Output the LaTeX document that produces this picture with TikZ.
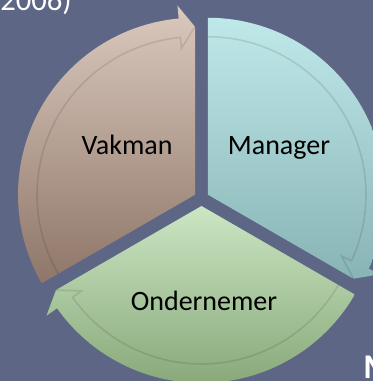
\documentclass[tikz,border=0pt]{standalone}
\usepackage{fontspec}
\setmainfont{Carlito}
\usepackage{xcolor}
\definecolor{slate}{HTML}{5E6685}
\definecolor{vakTop}{HTML}{DBC9BE}
\definecolor{vakBot}{HTML}{8E7668}
\definecolor{manTop}{HTML}{BFE8E9}
\definecolor{manBot}{HTML}{88B4B5}
\definecolor{ondTop}{HTML}{CBE6C3}
\definecolor{ondBot}{HTML}{89A97B}
\tikzset{
	x=0.75pt, y=0.75pt,
	label/.style={text=black, anchor=base, font=\fontsize{21}{25}\selectfont},
	title/.style={text=white, anchor=base west, inner sep=0pt},
	bandline/.style={draw=black, opacity=0.1, line width=1.2pt}}

\begin{document}
\begin{tikzpicture}
		\clip (-201.5,-182.5) rectangle (171.5,198.5);
		\fill[slate] (-201.5,-182.5) rectangle (171.5,198.5);
		
		% segments: start angle / end angle / shift direction / colours
		\foreach \sa/\ea/\sd/\cu/\cl in {210/90/150/vakTop/vakBot, 90/-30/30/manTop/manBot, 330/210/270/ondTop/ondBot}{
			\begin{scope}[shift={(\sd:7.5)}]
				\shade[top color=\cu, bottom color=\cl]
				(0,0) -- (\sa:177) arc[start angle=\sa, end angle=\ea+5.3, radius=177]
				-- ({\ea+5.3}:190) -- (\ea:168) -- cycle;
				\draw[bandline] (\sa:158) arc[start angle=\sa, end angle=\ea+5.3, radius=158]
				-- ({\ea+5.3}:147) -- (\ea:168);
			\end{scope}
		}
		
		\node[label] (vakman) at (-74.5,43.5) {Vakman};
		\node[label] (manager) at (77.5,43.5) {Manager};
		\node[label] (ondernemer) at (2.5,-111.5) {Ondernemer};
		
		\node[title, font=\fontsize{23}{27}\selectfont] (year) at (-201.5,187.5) {2006)};
		\node[title, font=\fontsize{26}{30}\selectfont\bfseries] (mletter) at (161.5,-179.5) {M};
	\end{tikzpicture}
\end{document}
